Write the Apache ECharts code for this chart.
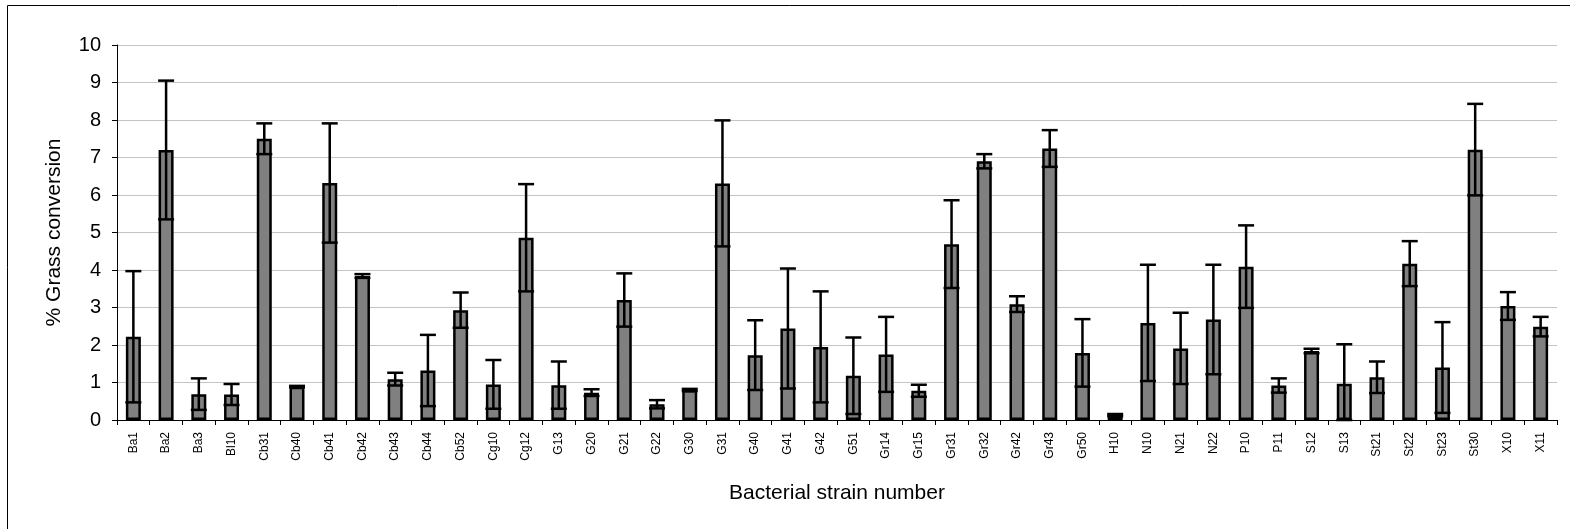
<!DOCTYPE html>
<html>
<head>
<meta charset="utf-8">
<script src="https://cdn.jsdelivr.net/npm/echarts@6/dist/echarts.min.js"></script>
<style>
  html, body { margin: 0; padding: 0; background: #fff; }
  #chart { width: 1570px; height: 529px; }
</style>
</head>
<body>
<div id="chart"></div>
<script>
// 菌株编号
const strains = ['Ba1', 'Ba2', 'Ba3', 'Bl10', 'Cb31', 'Cb40', 'Cb41', 'Cb42', 'Cb43', 'Cb44',
  'Cb52', 'Cg10', 'Cg12', 'G13', 'G20', 'G21', 'G22', 'G30', 'G31', 'G40',
  'G41', 'G42', 'G51', 'Gr14', 'Gr15', 'Gr31', 'Gr32', 'Gr42', 'Gr43', 'Gr50',
  'H10', 'N10', 'N21', 'N22', 'P10', 'P11', 'S12', 'S13', 'St21', 'St22',
  'St23', 'St30', 'X10', 'X11'];

// 平均转化率 (%)
const means = [2.22, 7.2, 0.69, 0.68, 7.5, 0.89, 6.32, 3.84, 1.09, 1.32,
  2.93, 0.95, 4.86, 0.93, 0.73, 3.2, 0.42, 0.8, 6.31, 1.73,
  2.44, 1.95, 1.18, 1.75, 0.78, 4.69, 6.9, 3.09, 7.24, 1.79,
  0.13, 2.59, 1.91, 2.68, 4.09, 0.92, 1.84, 0.97, 1.14, 4.17,
  1.4, 7.21, 3.04, 2.49];

// 误差 (±)
const errors = [1.75, 1.85, 0.42, 0.28, 0.41, 0.02, 1.59, 0.05, 0.17, 0.95,
  0.47, 0.65, 1.43, 0.63, 0.09, 0.71, 0.11, 0.03, 1.68, 0.93,
  1.6, 1.48, 1.02, 1.0, 0.16, 1.17, 0.19, 0.21, 0.49, 0.9,
  0.03, 1.55, 0.95, 1.46, 1.1, 0.19, 0.06, 1.05, 0.42, 0.6,
  1.21, 1.22, 0.37, 0.26];

const yTicks = [0, 1, 2, 3, 4, 5, 6, 7, 8, 9, 10];

const font = 'Liberation Sans, Arial, sans-serif';
const chart = echarts.init(document.getElementById('chart'));

// 误差线数据 [index, 下限, 上限]
const errData = strains.map((s, i) => [i, Math.max(0, means[i] - errors[i]), means[i] + errors[i]]);

chart.setOption({
  animation: false,
  graphic: [{
    type: 'rect',
    shape: { x: 7.5, y: 5.5, width: 1600, height: 600 },
    style: { fill: 'none', stroke: '#000', lineWidth: 1 },
    silent: true
  }],
  grid: { left: 117, right: 13, top: 45, bottom: 109, containLabel: false },
  xAxis: {
    type: 'category',
    data: strains,
    name: 'Bacterial strain number',
    nameLocation: 'middle',
    nameGap: 63,
    nameTextStyle: { fontFamily: font, fontSize: 21, color: '#000' },
    axisLine: { lineStyle: { color: '#000', width: 1 } },
    axisTick: { show: true, alignWithLabel: false, length: 5, lineStyle: { color: '#000' } },
    axisLabel: { rotate: 90, fontFamily: font, fontSize: 12, color: '#000', margin: 12, interval: 0 },
    splitLine: { show: false }
  },
  yAxis: {
    type: 'value',
    min: yTicks[0],
    max: yTicks[yTicks.length - 1],
    interval: 1,
    name: '% Grass conversion',
    nameLocation: 'middle',
    nameGap: 52,
    nameRotate: 90,
    nameTextStyle: { fontFamily: font, fontSize: 21, color: '#000' },
    axisLine: { show: true, lineStyle: { color: '#000', width: 1 } },
    axisTick: { show: true, length: 5, lineStyle: { color: '#000' } },
    axisLabel: { fontFamily: font, fontSize: 20, color: '#000', margin: 16 },
    splitLine: { show: true, lineStyle: { color: '#c4c4c4', width: 1 } }
  },
  series: [{
    type: 'bar',
    data: means,
    barWidth: 15,
    itemStyle: { color: '#808080', borderColor: '#000', borderWidth: 2.5 }
  }, {
    type: 'custom',
    data: errData,
    z: 10,
    renderItem: function (params, api) {
      const x = api.value(0);
      const lo = api.coord([x, api.value(1)]);
      const hi = api.coord([x, api.value(2)]);
      const half = 8;
      const st = { stroke: '#000', lineWidth: 2.5 };
      return {
        type: 'group',
        children: [
          { type: 'line', shape: { x1: hi[0], y1: hi[1], x2: lo[0], y2: lo[1] }, style: st },
          { type: 'line', shape: { x1: hi[0] - half, y1: hi[1], x2: hi[0] + half, y2: hi[1] }, style: st },
          { type: 'line', shape: { x1: lo[0] - half, y1: lo[1], x2: lo[0] + half, y2: lo[1] }, style: st }
        ]
      };
    }
  }]
});
</script>
</body>
</html>
